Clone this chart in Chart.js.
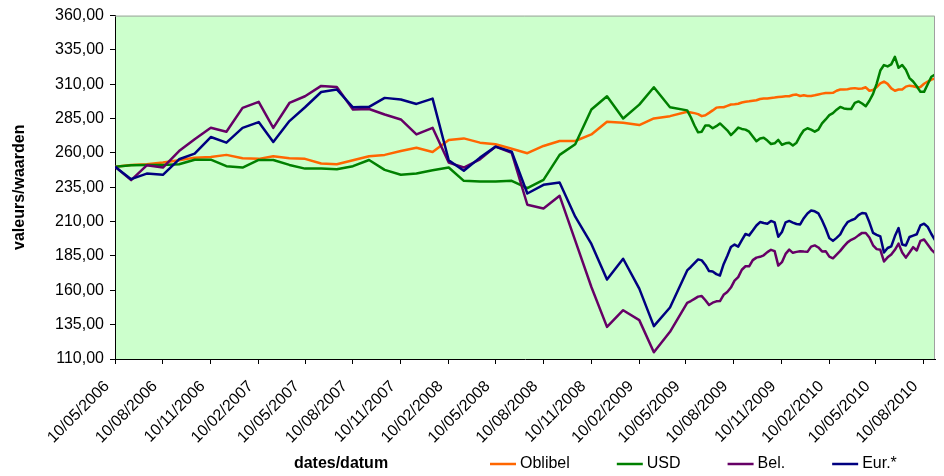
<!DOCTYPE html>
<html>
<head>
<meta charset="utf-8">
<script src="https://cdn.jsdelivr.net/npm/chart.js"></script>
<style>
  html, body { margin: 0; padding: 0; background: #fff; }
  canvas { display: block; }
</style>
</head>
<body>
<canvas id="fundChart" width="944" height="476"></canvas>
<script>
// monthly values until spring 2009, weekly afterwards
const dates = [
  '2006-05-10', '2006-06-10', '2006-07-10', '2006-08-10', '2006-09-10', '2006-10-10', '2006-11-10', '2006-12-10',
  '2007-01-10', '2007-02-10', '2007-03-10', '2007-04-10', '2007-05-10', '2007-06-10', '2007-07-10', '2007-08-10',
  '2007-09-10', '2007-10-10', '2007-11-10', '2007-12-10',
  '2008-01-10', '2008-02-10', '2008-03-10', '2008-04-10', '2008-05-10', '2008-06-10', '2008-07-10', '2008-08-10',
  '2008-09-10', '2008-10-10', '2008-11-10', '2008-12-10',
  '2009-01-10', '2009-02-10', '2009-03-10', '2009-04-10',
  '2009-05-13', '2009-05-20', '2009-05-27', '2009-06-03', '2009-06-10', '2009-06-17', '2009-06-24', '2009-07-01',
  '2009-07-08', '2009-07-15', '2009-07-22', '2009-07-29', '2009-08-05', '2009-08-12', '2009-08-19', '2009-08-26',
  '2009-09-02', '2009-09-09', '2009-09-16', '2009-09-23', '2009-09-30', '2009-10-07', '2009-10-14', '2009-10-21',
  '2009-10-28', '2009-11-04', '2009-11-11', '2009-11-18', '2009-11-25', '2009-12-02', '2009-12-09', '2009-12-16',
  '2009-12-23', '2009-12-30', '2010-01-06', '2010-01-13', '2010-01-20', '2010-01-27', '2010-02-03', '2010-02-10',
  '2010-02-17', '2010-02-24', '2010-03-03', '2010-03-10', '2010-03-17', '2010-03-24', '2010-03-31', '2010-04-07',
  '2010-04-14', '2010-04-21', '2010-04-28', '2010-05-05', '2010-05-12', '2010-05-19', '2010-05-26', '2010-06-02',
  '2010-06-09', '2010-06-16', '2010-06-23', '2010-06-30', '2010-07-07', '2010-07-14', '2010-07-21', '2010-07-28',
  '2010-08-04', '2010-08-11', '2010-08-18', '2010-08-25', '2010-09-01'
];

const oblibel = [
  250, 251.3, 251.8, 253, 254.7, 256.6, 257.1, 258.6, 256.2, 255.7, 257.6, 256.2, 255.7, 252.3, 251.8, 254.7,
  257.6, 258.6, 261.4, 263.8, 260.7, 269.4, 270.6, 267.5, 266.3, 263.1, 259.8, 265.1, 268.7, 268.7, 273.5, 282.7,
  282, 280.3, 285.1, 286.8,
  290, 289.5, 289, 288.3, 286.8, 287.5, 289.2, 291, 293, 293.3, 293.3, 294.3, 295.3, 295.5, 295.8, 296.7,
  297.3, 297.6, 298, 298.4, 299.3, 299.6, 299.6, 300, 300.3, 300.7, 301, 301.3, 301.3, 302.2, 302.5, 301.5,
  302, 301.5, 301.5, 302, 302.6, 303.2, 303.7, 303.7, 303.8, 305.3, 306.2, 306.2, 306.4, 307, 307.2, 306.8,
  306.9, 307.8, 305.3, 305.8, 308, 310.6, 312, 310.3, 307, 305.3, 306.2, 306.2, 308.3, 309, 308.6, 307.8,
  308, 310.4, 312, 313.4, 314.3
];

const usd = [
  250, 251, 251.3, 251.3, 251.8, 255.1, 255.1, 250.4, 249.4, 254.9, 254.9, 251.3, 248.6, 248.6, 248.2, 250.4,
  254.9, 247.7, 244.1, 245, 247.4, 249.4, 239.7, 239.2, 239.2, 239.7, 234.4, 240.4, 258.6, 266.3, 291.6, 301.3,
  285.1, 295.2, 307.8, 293.3,
  291, 286, 280, 275, 275.5, 280, 280, 278, 279.5, 281.5, 279, 276.5, 273, 275.5, 278.5, 277.5,
  277, 275.5, 272, 268.5, 270.5, 271, 269, 266.5, 267, 269.5, 266, 267, 267.5, 265.5, 267.5, 272.5,
  276.5, 278, 277, 275.5, 277, 281.5, 284.4, 287.5, 289, 291.5, 293.5, 292.4, 292, 292, 296.5, 297.5,
  296, 294, 298, 303, 310.5, 320, 324, 323, 324.5, 330, 322, 324, 320.5, 314.5, 312, 308.6,
  304.5, 304.5, 310, 315.5, 317
];

const bel = [
  250, 240.2, 251, 249.4, 261.4, 270, 278.3, 275.4, 292.8, 297.2, 278.3, 296.4, 301.3, 308.8, 308, 291.6,
  292, 288, 284.4, 273.5, 278.3, 253, 249.4, 255.4, 264.6, 260, 222.3, 219.6, 228.8, 196.2, 162.4, 133.4,
  145.5, 138.3, 114.9, 129.8,
  150.8, 152.2, 153.8, 155.4, 155.8, 152.8, 149.3, 151, 152, 152.2, 156.7, 158.8, 162, 167, 169.6, 175,
  177.5, 177.5, 182, 183.8, 184.4, 185.5, 187.8, 189.5, 188.5, 178, 180.5, 186.5, 189.6, 187.3, 188, 188.5,
  188.2, 188, 191.8, 192.7, 191.2, 188.3, 188.5, 184.5, 183.3, 186, 188.7, 192, 194.9, 196.8, 198, 200,
  201.8, 201.7, 198.5, 192.8, 190, 189.5, 181, 184, 186, 189.5, 194, 187.5, 183.8, 187.5, 191.4, 189,
  196, 197, 193.4, 189.7, 187
];

const eur = [
  250, 240.9, 245, 244.1, 255.4, 259.5, 271.6, 267.5, 278.3, 282.5, 268, 283.2, 293.3, 304.4, 306.2, 293.3,
  293.6, 300.1, 298.9, 295.7, 299.6, 254.7, 247, 256.6, 264.6, 260.9, 230.5, 236.8, 238.5, 213.6, 193.8, 167.8,
  183, 161.2, 133.9, 147.5,
  174.5, 177, 179.8, 182.5, 181.8, 178.5, 174, 173.7, 171.8, 170.8, 179, 185, 191.5, 193.3, 191.8, 196.5,
  201, 200, 203.5, 207.2, 209.7, 209, 208.5, 210.5, 209.5, 199, 202.5, 209.5, 210.5, 209.3, 208.3, 208,
  212.5, 216, 218.1, 217.5, 216, 211, 205, 198, 196, 198.2, 200.7, 205.8, 209.6, 211, 212, 214.7,
  216.3, 216, 209.5, 201.8, 200.4, 199.2, 187.5, 190.8, 192, 199.5, 205.3, 193.4, 192.6, 198.8, 199.8, 200.8,
  207.3, 208.5, 206.2, 201, 196.5
];

const tickLabels = [
  '10/05/2006', '10/08/2006', '10/11/2006', '10/02/2007', '10/05/2007', '10/08/2007', '10/11/2007',
  '10/02/2008', '10/05/2008', '10/08/2008', '10/11/2008', '10/02/2009', '10/05/2009', '10/08/2009',
  '10/11/2009', '10/02/2010', '10/05/2010', '10/08/2010'
];

const seriesNames = ['Oblibel', 'USD', 'Bel.', 'Eur.*'];
const seriesColors = ['#ff6600', '#008000', '#660066', '#000080'];

// x axis works in days counted from the first date
const origin = Date.UTC(2006, 4, 10);
const dayOf = (y, m, d) => Math.round((Date.UTC(y, m - 1, d) - origin) / 86400000);
const isoDay = s => { const p = s.split('-').map(Number); return dayOf(p[0], p[1], p[2]); };
const labelDay = s => { const p = s.split('/').map(Number); return dayOf(p[2], p[1], p[0]); };

const days = dates.map(isoDay);
const tickDays = tickLabels.map(labelDay);

const toPoints = values => values.map((v, i) => ({ x: days[i], y: v }));

Chart.defaults.font.family = '"Liberation Sans", Arial, sans-serif';
Chart.defaults.font.size = 16;
Chart.defaults.color = '#000';

const plotDecor = {
  id: 'plotDecor',
  beforeDraw(chart) {
    const { ctx, chartArea: a } = chart;
    ctx.save();
    ctx.fillStyle = '#ccffcc';
    ctx.fillRect(a.left, a.top, a.right - a.left, a.bottom - a.top);
    ctx.restore();
  },
  afterDraw(chart) {
    const { ctx, chartArea: a } = chart;
    ctx.save();
    // grey frame on top and right of the plot
    ctx.strokeStyle = '#a0a0a0';
    ctx.lineWidth = 1;
    ctx.beginPath();
    ctx.moveTo(a.left, a.top + 0.5);
    ctx.lineTo(a.right - 0.5, a.top + 0.5);
    ctx.lineTo(a.right - 0.5, a.bottom);
    ctx.stroke();

    // x axis title and legend share the bottom row
    const rowY = 464;
    ctx.textBaseline = 'middle';
    ctx.fillStyle = '#000';
    ctx.font = 'bold 16px "Liberation Sans", Arial, sans-serif';
    ctx.textAlign = 'center';
    ctx.fillText('dates/datum', 341, rowY);

    ctx.font = '16px "Liberation Sans", Arial, sans-serif';
    ctx.textAlign = 'left';
    let x = 490;
    chart.data.datasets.forEach(ds => {
      ctx.strokeStyle = ds.borderColor;
      ctx.lineWidth = 2.5;
      ctx.beginPath();
      ctx.moveTo(x, rowY);
      ctx.lineTo(x + 26, rowY);
      ctx.stroke();
      ctx.fillText(ds.label, x + 30, rowY);
      x += 30 + ctx.measureText(ds.label).width + 47;
    });
    ctx.restore();
  }
};

new Chart(document.getElementById('fundChart'), {
  type: 'line',
  data: {
    datasets: [oblibel, usd, bel, eur].map((values, i) => ({
      label: seriesNames[i],
      data: toPoints(values),
      borderColor: seriesColors[i],
      backgroundColor: seriesColors[i],
      borderWidth: 2.5,
      borderJoinStyle: 'round',
      pointRadius: 0,
      tension: 0,
      order: 4 - i
    }))
  },
  options: {
    responsive: false,
    animation: false,
    layout: { padding: { top: 14, right: 9, bottom: 30, left: 0 } },
    plugins: {
      legend: { display: false },
      tooltip: { enabled: false }
    },
    scales: {
      x: {
        type: 'linear',
        min: 0,
        max: days[days.length - 1],
        afterBuildTicks: scale => { scale.ticks = tickDays.map(v => ({ value: v })); },
        afterFit: scale => {
          scale.height = 87;
          // rotated labels hang to the left, keep the plot edges fixed
          scale.paddingLeft = 0;
          scale.paddingRight = 0;
        },
        ticks: {
          autoSkip: false,
          minRotation: 45,
          maxRotation: 45,
          padding: 13,
          labelOffset: -8,
          callback: (value, index) => tickLabels[index]
        },
        grid: { drawOnChartArea: false, drawTicks: true, tickLength: 5, color: '#000' },
        border: { color: '#000', width: 1 }
      },
      y: {
        min: 110,
        max: 360,
        afterFit: scale => { scale.width = 115; },
        ticks: {
          stepSize: 25,
          padding: 6,
          callback: value => value.toFixed(2).replace('.', ',')
        },
        title: {
          display: true,
          text: 'valeurs/waarden',
          font: { size: 16, weight: 'bold' },
          padding: { top: 10, bottom: 0 }
        },
        grid: { drawOnChartArea: false, drawTicks: true, tickLength: 5, color: '#000' },
        border: { color: '#000', width: 1 }
      }
    }
  },
  plugins: [plotDecor]
});
</script>
</body>
</html>
